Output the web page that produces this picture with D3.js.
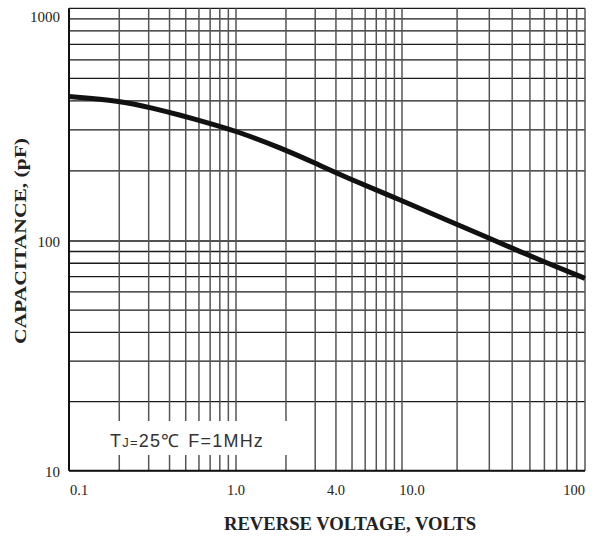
<!DOCTYPE html>
<html>
<head>
<meta charset="utf-8">
<script src="https://cdn.jsdelivr.net/npm/d3@7"></script>
<style>
  body { margin: 0; background: #fff; }
  svg { display: block; }
</style>
</head>
<body>
<svg id="chart"></svg>
<script>
// curve
var voltage = [0.1, 0.2, 0.32, 0.46, 0.7, 1.0, 1.84, 3.0, 4.5, 10, 18, 29, 44, 66, 100];
var capacitance = [418, 401, 372, 348, 320, 297, 252, 216, 189, 149, 122, 104, 90, 78.6, 68.8];

var xTicks = [0.1, 1, 4, 10, 100];
var xTickLabels = ["0.1", "1.0", "4.0", "10.0", "100"];
var yTicks = [10, 100, 1000];
var yTickLabels = ["10", "100", "1000"];

var W = 597, H = 537;

var svg = d3.select("#chart").attr("width", W).attr("height", H);

// grid of the original is slightly uneven per decade
var x = d3.scaleLog().domain([0.1, 1, 10, 100]).range([69, 236, 402, 585]);
var y = d3.scaleLog().domain([10, 100, 1000]).range([470.7, 241, 8.3]);

var gridX = [], gridY = [];
[0.1, 1, 10].forEach(function (d) {
  for (var k = 1; k < 10; k++) gridX.push(d * k);
});
gridX.push(100);
[10, 100].forEach(function (d) {
  for (var k = 1; k < 10; k++) gridY.push(d * k);
});
gridY.push(1000);

var g = svg.append("g");

// horizontal grid
g.selectAll(".hgrid").data(gridY).join("line")
  .attr("class", "hgrid")
  .attr("x1", x(0.1)).attr("x2", x(100))
  .attr("y1", function (d) { return y(d); })
  .attr("y2", function (d) { return y(d); })
  .attr("stroke", "#1a1a1a").attr("stroke-width", 1.3);

// vertical grid
g.selectAll(".vgrid").data(gridX).join("line")
  .attr("class", "vgrid")
  .attr("x1", function (d) { return x(d); })
  .attr("x2", function (d) { return x(d); })
  .attr("y1", y(1000)).attr("y2", y(10))
  .attr("stroke", "#555").attr("stroke-width", 1.5);

// frame left & bottom
g.append("line").attr("x1", x(0.1)).attr("x2", x(0.1)).attr("y1", y(1000)).attr("y2", y(10))
  .attr("stroke", "#111").attr("stroke-width", 2);
g.append("line").attr("x1", x(0.1)).attr("x2", x(100)).attr("y1", y(10)).attr("y2", y(10))
  .attr("stroke", "#111").attr("stroke-width", 2);

// curve
var line = d3.line()
  .x(function (d, i) { return x(voltage[i]); })
  .y(function (d, i) { return y(capacitance[i]); })
  .curve(d3.curveBasis);

g.append("path")
  .datum(voltage)
  .attr("d", line)
  .attr("fill", "none")
  .attr("stroke", "#111")
  .attr("stroke-width", 5);

// condition note
g.append("rect")
  .attr("x", 103).attr("y", 421).attr("width", 190).attr("height", 34)
  .attr("fill", "#fff");
var note = g.append("text")
  .attr("x", 110).attr("y", 447)
  .attr("font-family", "Liberation Sans, Arial, sans-serif")
  .attr("font-size", 18)
  .attr("letter-spacing", 1.2)
  .attr("fill", "#333");
note.append("tspan").text("T");
note.append("tspan").attr("font-size", 13).text("J=");
note.append("tspan").text("25\u2103");
note.append("tspan").attr("dx", 8).text("F=1MHz");

// tick labels
g.selectAll(".xlab").data(xTicks).join("text")
  .attr("class", "xlab")
  .attr("x", function (d, i) { return x(d) + (i === 0 ? 1 : i === 3 ? 10 : 0); })
  .attr("y", 495)
  .attr("text-anchor", function (d, i) { return i === 0 ? "start" : i === xTicks.length - 1 ? "end" : "middle"; })
  .attr("font-family", "Liberation Serif, Times New Roman, serif")
  .attr("font-size", 14.5)
  .attr("fill", "#222")
  .text(function (d, i) { return xTickLabels[i]; });

g.selectAll(".ylab").data(yTicks).join("text")
  .attr("class", "ylab")
  .attr("x", 60)
  .attr("y", function (d) { return y(d) + (d === 1000 ? 14 : 6); })
  .attr("text-anchor", "end")
  .attr("font-family", "Liberation Serif, Times New Roman, serif")
  .attr("font-size", 15)
  .attr("fill", "#222")
  .text(function (d, i) { return yTickLabels[i]; });

// axis titles
g.append("text")
  .attr("x", 350).attr("y", 530)
  .attr("text-anchor", "middle")
  .attr("font-family", "Liberation Serif, Times New Roman, serif")
  .attr("font-weight", "bold")
  .attr("font-size", 18.5)
  .attr("textLength", 252)
  .attr("lengthAdjust", "spacingAndGlyphs")
  .attr("fill", "#222")
  .text("REVERSE VOLTAGE, VOLTS");

g.append("text")
  .attr("transform", "translate(26,241) rotate(-90)")
  .attr("text-anchor", "middle")
  .attr("font-family", "Liberation Serif, Times New Roman, serif")
  .attr("font-weight", "bold")
  .attr("font-size", 16)
  .attr("textLength", 206)
  .attr("lengthAdjust", "spacingAndGlyphs")
  .attr("fill", "#222")
  .text("CAPACITANCE, (pF)");
</script>
</body>
</html>
